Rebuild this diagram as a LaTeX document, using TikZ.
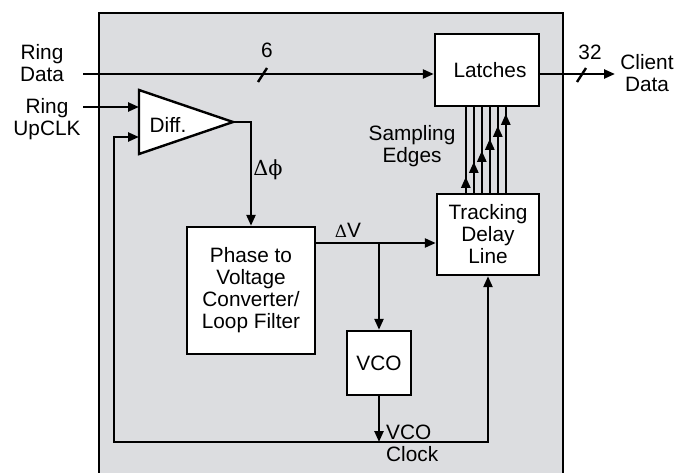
\documentclass[tikz,border=0pt]{standalone}
\usepackage{fontspec}
\setmainfont{Liberation Sans}
\newfontfamily\grkfont{DejaVu Serif}
\usepackage{tikz}
\usetikzlibrary{arrows.meta,positioning,calc}
\definecolor{panelgray}{RGB}{220,221,224}

\begin{document}
\begin{tikzpicture}[x=1pt, y=1pt, every node/.style={font=\fontsize{20.8}{22}\selectfont, align=center, inner sep=0pt},
  wire/.style={line width=2.4pt},
  arr/.style={wire, -{Triangle[length=11pt,width=9pt]}},
  blk/.style={draw, line width=2.4pt, fill=white}]
\useasboundingbox (0,0) rectangle (677,472);
% chip outline
\draw[line width=2.6pt, fill=panelgray] (99,-20) rectangle (563,459);
% blocks
\node[blk, minimum width=104pt, minimum height=72pt] (lat) at (487,402) {\hspace*{6pt}Latches};
\node[blk, minimum width=102pt, minimum height=81pt] (trk) at (488,237.5) {Tracking\\Delay\\Line};
\node[blk, minimum width=128pt, minimum height=127pt] (pvc) at (251,181.5) {Phase to\\Voltage\\Converter/\\Loop Filter};
\node[blk, minimum width=64pt, minimum height=64pt] (vco) at (379,109) {VCO};
% differential amplifier
\draw[blk] (139,382) -- (139,318) -- (233,350) -- cycle;
\coordinate (dtop) at (139,365);
\coordinate (dbot) at (139,335);
\coordinate (dout) at (233,350);
\node (diff) at (168,347) {Diff.};
% inputs
\node (rdata) at (42,409) {Ring\\Data};
\node (rclk) at (47,353) {Ring\\UpCLK};
\coordinate (rdin) at (83,398);
\coordinate (rcin) at (83,365);
\draw[arr] (rdin) -- (rdin -| lat.west);
\draw[arr] (rcin) -- (dtop);
\coordinate (bus6) at (262.5,397);
\draw[wire] ($(bus6)+(-4.5,-7)$) -- ($(bus6)+(4.5,7)$);
\node (w6) at (267,422) {6};
% loop
\draw[arr] (dout) -| (pvc.north);
\node (dphi) at (268,302) {{\grkfont Δϕ}};
\coordinate (br) at (379,229);
\draw[arr] (pvc.east |- br) -- (br -| trk.west);
\node (dv) at (348,242) {{\grkfont\fontsize{17}{17}\selectfont Δ}V};
\draw[arr] (br) -- (vco.north);
\coordinate (lp) at (379,30);
\coordinate (lpl) at (114,30);
\draw[arr] (vco.south) -- (lp);
\draw[arr] (lp) -| (trk.south);
\draw[arr] (lp) -- (lpl) |- (dbot);
\node[anchor=west, align=left] (vclk) at (386,29) {VCO\\Clock};
% sampling edges
\node (samp) at (412,326) {Sampling\\Edges};
\foreach \i/\t in {0/16,1/31,2/42,3/54,4/67,5/79} {
  \coordinate (e\i) at ($(trk.north west)+(30+8*\i,0)$);
  \draw[wire] (e\i) -- (e\i |- lat.south);
  \draw[arr] (e\i) -- ++(0,\t);
}
% output
\coordinate (cout) at (615,398);
\draw[arr] (lat.east |- rdin) -- (cout);
\coordinate (bus32) at (581.5,397);
\draw[wire] ($(bus32)+(-4.5,-7)$) -- ($(bus32)+(4.5,7)$);
\node (w32) at (590,420) {32};
\node (cdata) at (647,399) {Client\\Data};
\end{tikzpicture}
\end{document}
